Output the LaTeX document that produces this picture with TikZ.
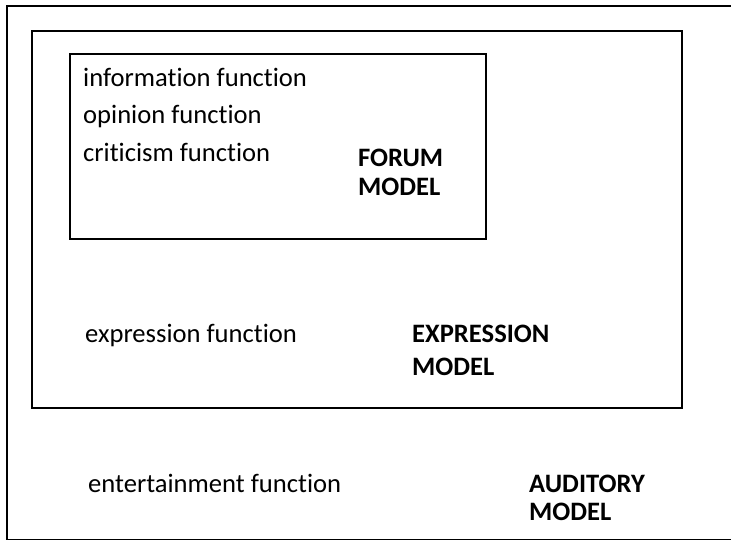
\documentclass[tikz,border=0pt]{standalone}
\usepackage{fontspec}
\setmainfont{Carlito}[Ligatures=NoCommon]
\usepackage{tikz}
\usetikzlibrary{positioning,calc}

\begin{document}
\begin{tikzpicture}[
    x=1pt, y=-1pt,
    box/.style={draw, line width=2pt},
    func/.style={anchor=base west, inner sep=0pt, font=\fontsize{26.6}{31}\selectfont},
    model/.style={func, font=\fontsize{26.6}{31}\selectfont\bfseries}
]
    \useasboundingbox (0,0) rectangle (731,539);
    \clip (0,0) rectangle (731,539);

    % Boxes
    \draw[box] (7,6) rectangle (760,539.7);
    \draw[box] (32,31) rectangle (682,408);
    \draw[box] (70,54) rectangle (486,239);

    % Functions
    \node[func] (information) at (83,86) {information function};
    \node[func] (opinion) at (83,123) {opinion function};
    \node[func] (criticism) at (83,161) {criticism function};
    \node[func] (expression) at (85,342) {expression function};
    \node[func] (entertainment) at (88,492) {entertainment function};

    % Models
    \node[model] (forum) at (358,166) {FORUM};
    \node[model] (forummodel) at ($(forum.base west)+(0,29)$) {MODEL};
    \node[model] (express) at (412,342) {EXPRESSION};
    \node[model] (expressmodel) at ($(express.base west)+(0,33)$) {MODEL};
    \node[model] (auditory) at (529,492) {AUDITORY};
    \node[model] (auditorymodel) at ($(auditory.base west)+(0,28)$) {MODEL};
\end{tikzpicture}
\end{document}
